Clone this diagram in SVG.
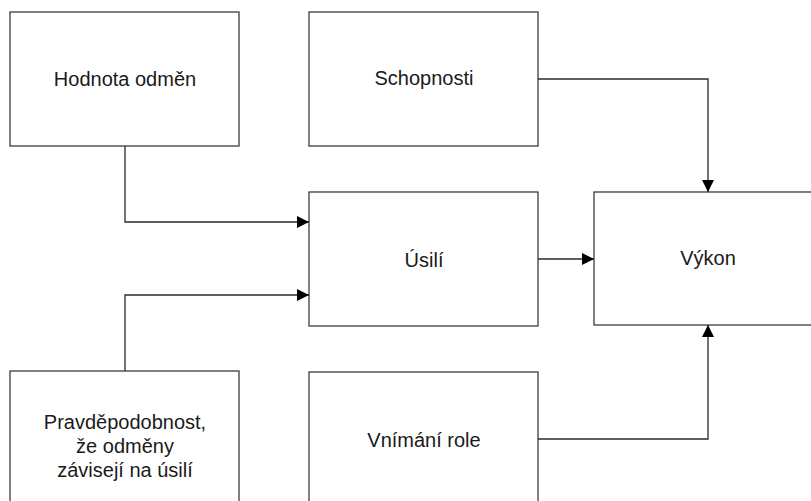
<svg xmlns="http://www.w3.org/2000/svg" width="811" height="501" viewBox="0 0 811 501">
<style>
.box{fill:#fff;stroke:#3c3c3c;stroke-width:1.3}
.lbl{font-family:"Liberation Sans",Arial,sans-serif;font-size:20px;fill:#1a1a1a;text-anchor:middle}
.con{fill:none;stroke:#2a2a2a;stroke-width:1.3}
</style>
<defs>
<marker id="ah" markerUnits="userSpaceOnUse" markerWidth="12" markerHeight="12" refX="12" refY="6" orient="auto">
<path d="M0,0 L12,6 L0,12 Z" fill="#000"/>
</marker>
</defs>
<rect width="811" height="501" fill="#fff"/>
<g id="hodnota"><rect class="box" x="10" y="12" width="229" height="134"/><text class="lbl" x="125" y="86">Hodnota odměn</text></g>
<g id="schopnosti"><rect class="box" x="309" y="12" width="229" height="134"/><text class="lbl" x="424" y="85">Schopnosti</text></g>
<g id="usili"><rect class="box" x="309" y="192" width="229" height="134"/><text class="lbl" x="424" y="267">Úsilí</text></g>
<g id="vykon"><rect class="box" x="594" y="192" width="229" height="133"/><text class="lbl" x="708" y="265">Výkon</text></g>
<g id="pravdepodobnost"><rect class="box" x="10" y="371" width="229" height="140"/><text class="lbl" x="125" y="429">Pravděpodobnost,</text><text class="lbl" x="125" y="453">že odměny</text><text class="lbl" x="125" y="477">závisejí na úsilí</text></g>
<g id="vnimani"><rect class="box" x="309" y="372" width="229" height="140"/><text class="lbl" x="424" y="447">Vnímání role</text></g>
<g id="connectors">
<path class="con" d="M125,146 V222 H309" marker-end="url(#ah)"/>
<path class="con" d="M125,371 V295 H309" marker-end="url(#ah)"/>
<path class="con" d="M538,259 H594" marker-end="url(#ah)"/>
<path class="con" d="M538,79 H708 V192" marker-end="url(#ah)"/>
<path class="con" d="M538,439 H708 V325" marker-end="url(#ah)"/>
</g>
</svg>
